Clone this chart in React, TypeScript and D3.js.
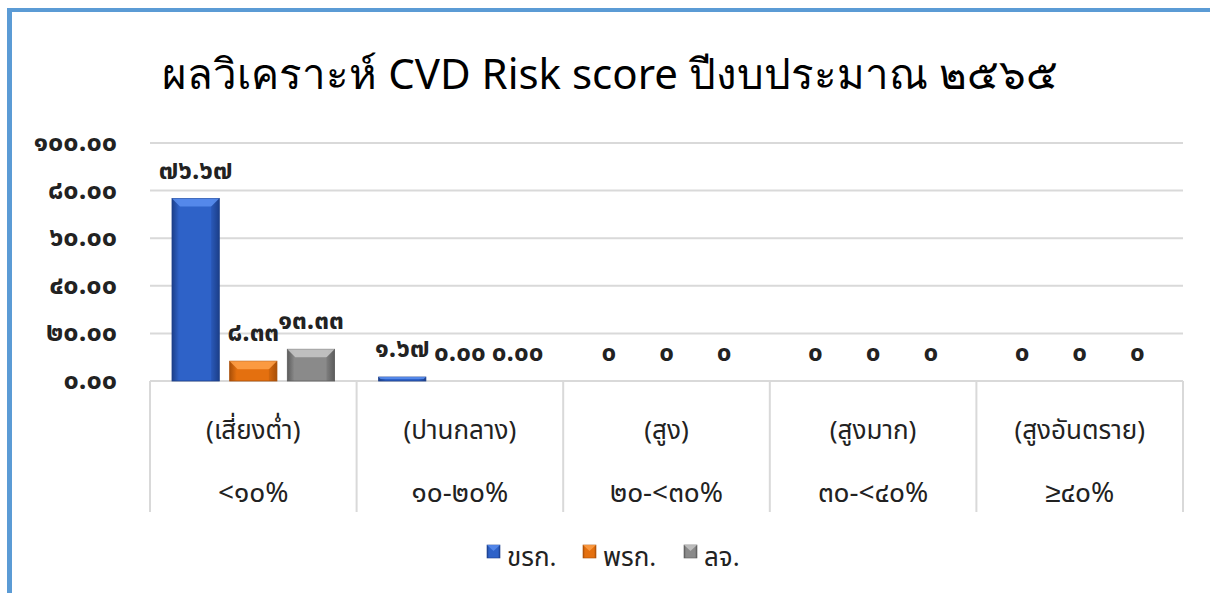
import React from 'react';
import * as d3 from 'd3';

const title = 'ผลวิเคราะห์ CVD Risk score ปีงบประมาณ ๒๕๖๕';
const categoryNames = ['(เสี่ยงต่ำ)', '(ปานกลาง)', '(สูง)', '(สูงมาก)', '(สูงอันตราย)'];
const categoryRanges = ['<๑๐%', '๑๐-๒๐%', '๒๐-<๓๐%', '๓๐-<๔๐%', '≥๔๐%'];
const seriesNames = ['ขรก.', 'พรก.', 'ลจ.'];
const valuesGov = [76.67, 1.67, 0, 0, 0];
const valuesEmp = [8.33, 0, 0, 0, 0];
const valuesWorker = [13.33, 0, 0, 0, 0];
const labelsGov = ['๗๖.๖๗', '๑.๖๗', '๐', '๐', '๐'];
const labelsEmp = ['๘.๓๓', '๐.๐๐', '๐', '๐', '๐'];
const labelsWorker = ['๑๓.๓๓', '๐.๐๐', '๐', '๐', '๐'];
const yTicks = [0, 20, 40, 60, 80, 100];

const thaiDigits = '๐๑๒๓๔๕๖๗๘๙';
const toThai = (s: string) => s.replace(/[0-9]/g, d => thaiDigits[+d]);

const colors = [
  { main: '#2e62c8', light: '#5b8ff0', dark: '#1c3f8a' },
  { main: '#e4700f', light: '#ffa14a', dark: '#a94f08' },
  { main: '#8a8a8a', light: '#c8c8c8', dark: '#5c5c5c' },
];

const font = "Tahoma, 'Noto Sans Thai', 'Noto Sans', sans-serif";

const left = 150, right = 1183, top = 143, bottom = 381, boxBottom = 512;

function Bar({ x, y, w, h, c, id }: { x: number; y: number; w: number; h: number; c: typeof colors[0]; id: string }) {
  if (h <= 0) return null;
  const bev = Math.min(8, h / 2);
  return (
    <g>
      <rect x={x} y={y} width={w} height={h} fill={`url(#${id})`} stroke={c.dark} strokeWidth={0.8} />
      <polygon points={`${x},${y} ${x + w},${y} ${x + w - bev},${y + bev} ${x + bev},${y + bev}`} fill={c.light} opacity={0.85} />
      <polygon points={`${x + w},${y} ${x + w},${y + h} ${x + w - bev},${y + h} ${x + w - bev},${y + bev}`} fill={c.dark} opacity={0.35} />
    </g>
  );
}

export default function App() {
  const x = d3.scaleBand<string>().domain(categoryRanges).range([left, right]);
  const bw = x.bandwidth();
  const xs = d3.scaleBand<string>().domain(seriesNames).range([22, bw - 22]).paddingInner(0.18);
  const y = d3.scaleLinear().domain([0, 100]).range([bottom, top]);
  const series = [
    { vals: valuesGov, labels: labelsGov },
    { vals: valuesEmp, labels: labelsEmp },
    { vals: valuesWorker, labels: labelsWorker },
  ];
  const legendX = [487, 583, 684];

  return (
    <svg width={1210} height={593} style={{ position: 'absolute', left: 0, top: 0, background: '#fff' }} fontFamily={font}>
      <defs>
        {colors.map((c, i) => (
          <linearGradient key={i} id={`g${i}`} x1="0" x2="1" y1="0" y2="0">
            <stop offset="0" stopColor={c.dark} />
            <stop offset="0.15" stopColor={c.main} />
            <stop offset="0.85" stopColor={c.main} />
            <stop offset="1" stopColor={c.dark} />
          </linearGradient>
        ))}
      </defs>
      <rect x={7} y={8} width={1203} height={4} fill="#5b9bd5" />
      <rect x={7} y={8} width={5} height={585} fill="#5b9bd5" />

      <text x={610} y={89} textAnchor="middle" fontSize={42} fontFamily="'Noto Sans', Tahoma, sans-serif" fill="#000">{title}</text>

      {yTicks.map(t => (
        <g key={t}>
          {t > 0 && <line x1={left} x2={right} y1={y(t)} y2={y(t)} stroke="#d9d9d9" strokeWidth={2} />}
          <text x={117} y={y(t) + 8} textAnchor="end" fontSize={27} fontWeight="bold" fill="#222">{toThai(d3.format('.2f')(t))}</text>
        </g>
      ))}

      <line x1={left} x2={right} y1={bottom} y2={bottom} stroke="#d9d9d9" strokeWidth={2} />
      {[...categoryRanges.map(c => x(c)!), right].map((lx, i) => (
        <line key={i} x1={lx} x2={lx} y1={bottom} y2={boxBottom} stroke="#d9d9d9" strokeWidth={2} />
      ))}

      {categoryRanges.map((cat, ci) => (
        <g key={cat}>
          {series.map((s, si) => {
            const bx = x(cat)! + xs(seriesNames[si])!;
            const v = s.vals[ci];
            return (
              <g key={si}>
                <Bar x={bx} y={y(v)} w={xs.bandwidth()} h={bottom - y(v)} c={colors[si]} id={`g${si}`} />
                <text x={bx + xs.bandwidth() / 2} y={y(v) - 20} textAnchor="middle" fontSize={26} fontWeight="bold" fill="#222">{s.labels[ci]}</text>
              </g>
            );
          })}
          <text x={x(cat)! + bw / 2} y={439} textAnchor="middle" fontSize={26} fill="#222">{categoryNames[ci]}</text>
          <text x={x(cat)! + bw / 2} y={502} textAnchor="middle" fontSize={28} fill="#222">{cat}</text>
        </g>
      ))}

      {seriesNames.map((n, i) => (
        <g key={n}>
          <rect x={legendX[i]} y={545} width={13} height={13} fill={`url(#g${i})`} stroke={colors[i].dark} strokeWidth={0.6} />
          <polygon points={`${legendX[i]},545 ${legendX[i] + 13},545 ${legendX[i] + 6.5},551`} fill={colors[i].light} opacity={0.8} />
          <text x={legendX[i] + 20} y={566} fontSize={26} fill="#222">{n}</text>
        </g>
      ))}
    </svg>
  );
}
